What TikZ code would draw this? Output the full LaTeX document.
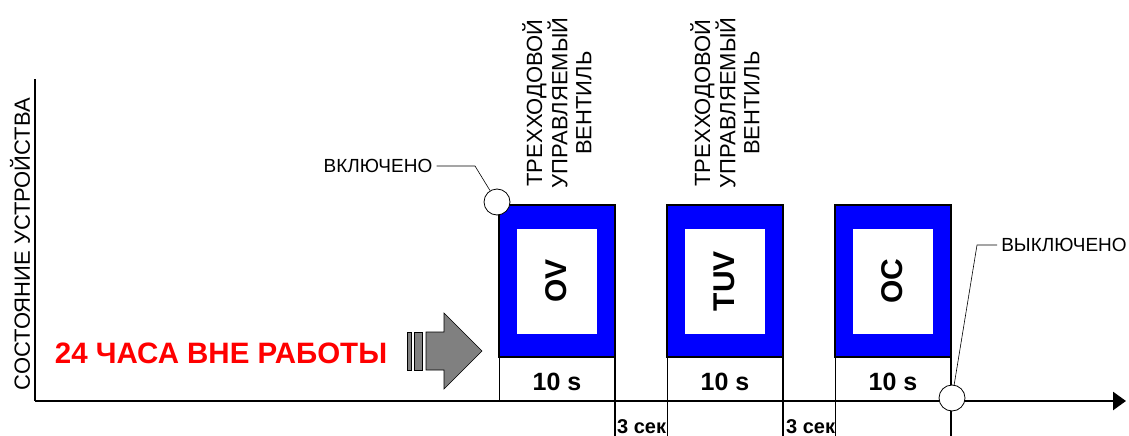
\documentclass[tikz,border=0pt]{standalone}
\usepackage{fontspec}
\setmainfont{Liberation Sans}
\usetikzlibrary{arrows.meta}

\begin{document}
\begin{tikzpicture}[x=1pt,y=-1pt,
  valvebox/.style={draw=black, line width=1.6pt, fill=blue},
  marker/.style={circle, draw=black, line width=0.8pt, fill=white, minimum size=26pt, inner sep=0pt},
  callout/.style={draw=black, line width=0.6pt},
  plain/.style={font=\fontsize{19}{19}\selectfont, inner sep=4pt}]
\useasboundingbox (0,0) rectangle (1129,436);
% axes
\coordinate (origin) at (35,401);
\coordinate (yend) at (35,79);
\coordinate (xend) at (1126,401);
\draw[line width=2pt] (yend) -- (origin);
\node[rotate=90, font=\fontsize{22}{22}\selectfont] (state) at (20,244) {СОСТОЯНИЕ УСТРОЙСТВА};
% valve boxes
\foreach \x/\name [count=\i] in {499/OV,667/TUV,835/OC} {
  \draw[gray!45, fill=white, line width=0.8pt] (\x,357) rectangle ({\x+116},401);
  \draw[valvebox] (\x,205) rectangle ({\x+116},357);
  \fill[white] ({\x+18},229) rectangle ({\x+98},334);
  \node[rotate=90, font=\bfseries\fontsize{30}{30}\selectfont] (v\i) at ({\x+57},281) {\name};
  \node[font=\bfseries\fontsize{25}{25}\selectfont] (t\i) at ({\x+58},382) {10 s};
  \draw[line width=1pt] (\x,357) -- (\x,401);
  \draw[line width=1.8pt] ({\x+116},205) -- ({\x+116},436);
}
\draw[line width=1pt] (667,401) -- (667,436);
\draw[line width=1pt] (835,401) -- (835,436);
\node[rotate=90, align=center, font=\fontsize{22}{24}\selectfont] (lab1) at (557,103) {ТРЕХХОДОВОЙ\\УПРАВЛЯЕМЫЙ\\ВЕНТИЛЬ};
\node[rotate=90, align=center, font=\fontsize{22}{24}\selectfont] (lab2) at (725,103) {ТРЕХХОДОВОЙ\\УПРАВЛЯЕМЫЙ\\ВЕНТИЛЬ};
\node[anchor=base west, inner sep=0pt, font=\bfseries\fontsize{20}{20}\selectfont] (p1) at (617,433) {3 сек};
\node[anchor=base west, inner sep=0pt, font=\bfseries\fontsize{20}{20}\selectfont] (p2) at (786,433) {3 сек};
\draw[line width=2.6pt, -{Triangle[length=13pt,width=18pt]}] (origin) -- (xend);
% idle period
\node[text=red, font=\bfseries\fontsize{29.5}{29.5}\selectfont] (idle) at (221,353) {24 ЧАСА ВНЕ РАБОТЫ};
\draw[fill=gray, line width=0.6pt] (407,332) rectangle (411,370);
\draw[fill=gray, line width=0.6pt] (414,332) rectangle (422,370);
\draw[fill=gray, line width=0.6pt] (426,332) -- (444,332) -- (444,313) -- (482,351) -- (444,389) -- (444,370) -- (426,370) -- cycle;
% on / off
\node[marker] (on) at (497,202) {};
\node[plain] (onlabel) at (378,166) {ВКЛЮЧЕНО};
\draw[callout] (on) -- (475,166) -- (onlabel);
\node[marker] (off) at (952,398) {};
\node[plain] (offlabel) at (1064,245) {ВЫКЛЮЧЕНО};
\draw[callout] (off) -- (977,245) -- (offlabel);
\end{tikzpicture}
\end{document}
